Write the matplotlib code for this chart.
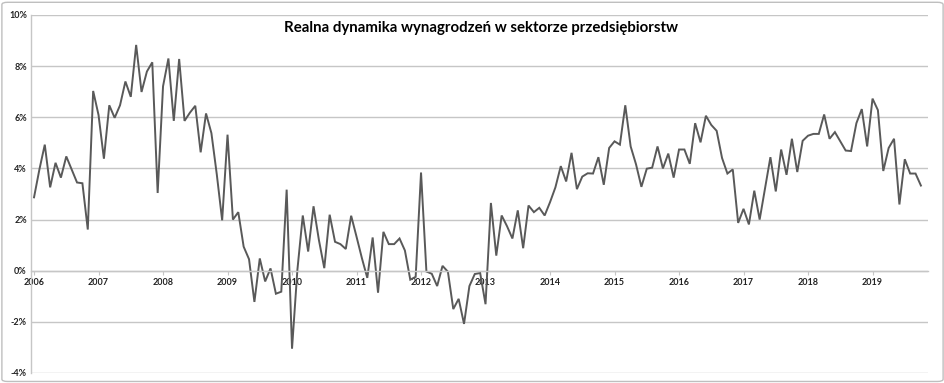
import matplotlib
matplotlib.use("Agg")
import matplotlib.pyplot as plt
from matplotlib.patches import FancyBboxPatch
import numpy as np

# monthly real wage growth, Jan 2006 - Oct 2019 (%)
start_year = 2006
values = [
    # 2006
    2.87, 3.96, 4.93, 3.26, 4.22, 3.64, 4.47, 3.96, 3.45, 3.42, 1.61, 7.03,
    # 2007
    6.09, 4.38, 6.47, 5.98, 6.47, 7.40, 6.80, 8.83, 6.99, 7.79, 8.15, 3.04,
    # 2008
    7.21, 8.30, 5.86, 8.28, 5.86, 6.18, 6.45, 4.63, 6.15, 5.38, 3.77, 1.97,
    # 2009
    5.32, 2.00, 2.29, 0.94, 0.45, -1.22, 0.48, -0.42, 0.09, -0.90, -0.82, 3.17,
    # 2010
    -3.05, 0.04, 2.16, 0.75, 2.52, 1.20, 0.10, 2.19, 1.13, 1.04, 0.85, 2.15,
    # 2011
    1.33, 0.49, -0.28, 1.30, -0.86, 1.52, 1.04, 1.04, 1.26, 0.79, -0.35, -0.24,
    # 2012
    3.84, -0.03, -0.12, -0.60, 0.19, -0.04, -1.50, -1.10, -2.08, -0.60, -0.13, -0.09,
    # 2013
    -1.31, 2.65, 0.59, 2.16, 1.74, 1.26, 2.36, 0.88, 2.55, 2.29, 2.46, 2.16,
    # 2014
    2.68, 3.26, 4.09, 3.49, 4.61, 3.19, 3.68, 3.81, 3.80, 4.44, 3.36, 4.80,
    # 2015
    5.06, 4.93, 6.47, 4.86, 4.16, 3.28, 3.99, 4.03, 4.86, 4.00, 4.58, 3.64,
    # 2016
    4.74, 4.74, 4.18, 5.77, 5.02, 6.06, 5.70, 5.47, 4.41, 3.80, 3.96, 1.87,
    # 2017
    2.42, 1.81, 3.13, 2.00, 3.22, 4.44, 3.10, 4.74, 3.75, 5.16, 3.86, 5.08,
    # 2018
    5.28, 5.35, 5.35, 6.11, 5.16, 5.42, 5.06, 4.70, 4.68, 5.77, 6.32, 4.86,
    # 2019
    6.73, 6.28, 3.90, 4.80, 5.16, 2.59, 4.36, 3.80, 3.80, 3.33,
]
years = list(range(2006, 2020))
yticks = [-4, -2, 0, 2, 4, 6, 8, 10]
title = "Realna dynamika wynagrodzeń w sektorze przedsiębiorstw"

x = start_year + np.arange(len(values)) / 12.0

plt.rcParams['font.family'] = ['Lato', 'DejaVu Sans']

fig = plt.figure(figsize=(9.45, 3.83), dpi=100)
ax = fig.add_axes([31 / 945, 1 - 373 / 383, (928 - 31) / 945, (373 - 15) / 383])

ax.plot(x, values, color='#595959', linewidth=1.4, solid_joinstyle='miter')

ax.set_xlim(2006 - 0.047, 2019.86)
ax.set_ylim(-4, 10)
ax.set_yticks(yticks)
ax.set_yticklabels([f"{v}%" for v in yticks])
ax.yaxis.grid(True, color='#c6c6c6', linewidth=1.0)
ax.set_axisbelow(True)

ax.set_xticks(years)
ax.set_xticklabels([str(y) for y in years])

for s in ['top', 'right']:
    ax.spines[s].set_visible(False)
ax.spines['left'].set_color('#c6c6c6')
ax.spines['left'].set_linewidth(1.0)
ax.spines['bottom'].set_position(('data', 0))
ax.spines['bottom'].set_color('#c6c6c6')
ax.spines['bottom'].set_linewidth(1.0)

ax.tick_params(axis='y', length=0, pad=3, labelsize=6.5, labelcolor='#222222')
ax.tick_params(axis='x', length=3, direction='out', color='#c6c6c6', pad=2,
               labelsize=6.5, labelcolor='#222222')
for lab in ax.get_xticklabels() + ax.get_yticklabels():
    lab.set_fontweight('bold')

fig.text(481 / 945, 1 - 28 / 383, title, ha='center', va='center',
         fontsize=10.8, fontweight='bold', color='#000000')

border = FancyBboxPatch((0.002, 0.004), 0.996, 0.99, boxstyle='round,pad=0,rounding_size=0.006',
                        transform=fig.transFigure, fill=False, edgecolor='#bfbfbf', linewidth=1.0)
fig.patches.append(border)

fig.savefig('out.png', dpi=100)
